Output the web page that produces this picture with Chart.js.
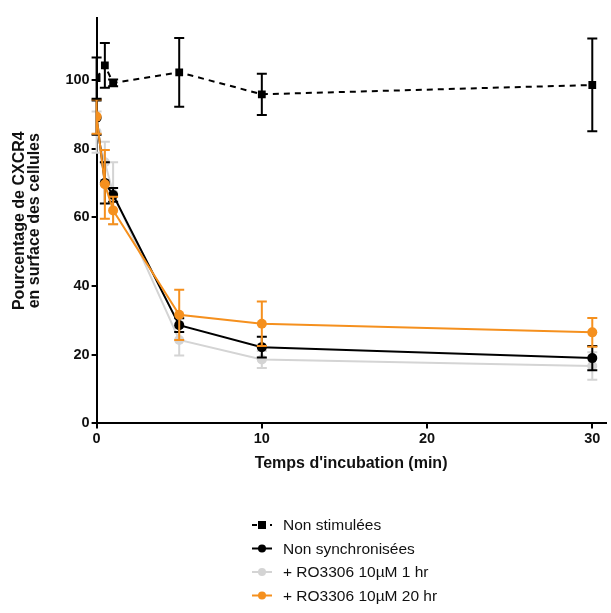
<!DOCTYPE html>
<html>
<head>
<meta charset="utf-8">
<script src="https://cdn.jsdelivr.net/npm/chart.js@4"></script>
<style>
  html, body { margin: 0; padding: 0; background: #fff; }
  #wrap { width: 611px; height: 613px; position: relative; }
</style>
</head>
<body>
<div id="wrap"><canvas id="Graph"></canvas></div>
<script>
// time points (min)
const times = [0, 0.5, 1, 5, 10, 30];

const seriesNames = ['Non stimulées', 'Non synchronisées', '+ RO3306 10µM 1 hr', '+ RO3306 10µM 20 hr'];

// means
const nonStim = [100.5, 104.2, 99.1, 102.2, 95.8, 98.5];
const nonSync = [89, 70, 66.5, 28.6, 22.2, 19];
const ro1h = [84.8, 76, 67, 24.3, 18.6, 16.7];
const ro20h = [89.3, 69.6, 62, 31.6, 29, 26.5];

// error (SD)
const nonStimErr = [6, 6.5, 1, 10, 6, 13.5];
const nonSyncErr = [5, 6, 2, 2, 3, 3.5];
const ro1hErr = [6, 6, 9, 4.5, 2.5, 4];
const ro20hErr = [5, 10, 4, 7.3, 6.5, 4.2];

const xTicks = [0, 10, 20, 30];
const yTicks = [0, 20, 40, 60, 80, 100];

const colBlack = '#000000';
const colGrey = '#d4d4d4';
const colOrange = '#f5901e';

function pts(vals) {
    return times.map((t, i) => ({ x: t, y: vals[i] }));
}

const errors = [nonStimErr, nonSyncErr, ro1hErr, ro20hErr];

// draws the vertical error bars under each dataset's markers
const errorBars = {
    id: 'errorBars',
    beforeDatasetDraw(chart, args) {
        const i = args.index;
        const ds = chart.data.datasets[i];
        const err = errors[i];
        const xs = chart.scales.x, ys = chart.scales.y;
        const ctx = chart.ctx;
        ctx.save();
        ctx.strokeStyle = ds.borderColor;
        ctx.lineWidth = 2;
        ctx.setLineDash([]);
        ds.data.forEach((p, j) => {
            const px = xs.getPixelForValue(p.x);
            const top = ys.getPixelForValue(p.y + err[j]);
            const bot = ys.getPixelForValue(p.y - err[j]);
            ctx.beginPath();
            ctx.moveTo(px, top); ctx.lineTo(px, bot);
            ctx.moveTo(px - 5, top); ctx.lineTo(px + 5, top);
            ctx.moveTo(px - 5, bot); ctx.lineTo(px + 5, bot);
            ctx.stroke();
        });
        ctx.restore();
    }
};

// legend drawn as a vertical list below the plot
const stackLegend = {
    id: 'stackLegend',
    afterDraw(chart) {
        const ctx = chart.ctx;
        const x0 = 252, lineW = 20, textX = 283;
        let y = 525;
        ctx.save();
        chart.data.datasets.forEach(ds => {
            ctx.strokeStyle = ds.borderColor;
            ctx.fillStyle = ds.borderColor;
            ctx.lineWidth = 2;
            ctx.setLineDash(ds.borderDash.length ? [5, 4] : []);
            ctx.beginPath();
            ctx.moveTo(x0, y); ctx.lineTo(x0 + lineW, y);
            ctx.stroke();
            ctx.setLineDash([]);
            const cx = x0 + lineW / 2;
            if (ds.pointStyle === 'rect') {
                ctx.fillRect(cx - 4, y - 4, 8, 8);
            } else {
                ctx.beginPath();
                ctx.arc(cx, y, 4, 0, Math.PI * 2);
                ctx.fill();
            }
            ctx.fillStyle = '#111';
            ctx.font = '15.5px "Liberation Sans", Arial, sans-serif';
            ctx.textBaseline = 'middle';
            ctx.fillText(ds.label, textX, y + 1);
            y += 23.5;
        });
        ctx.restore();
    }
};

function makeSet(label, vals, color, style, dash, order) {
    return {
        label: label,
        data: pts(vals),
        borderColor: color,
        backgroundColor: color,
        pointBackgroundColor: color,
        pointBorderColor: color,
        pointBorderWidth: 0,
        pointStyle: style,
        pointRadius: style === 'rect' ? 5.5 : 5,
        borderWidth: 2,
        borderDash: dash,
        tension: 0,
        order: order
    };
}

const tickFont = { family: '"Liberation Sans", Arial, sans-serif', size: 14.5, weight: 'bold' };
const titleFont = { family: '"Liberation Sans", Arial, sans-serif', size: 16, weight: 'bold' };

new Chart(document.getElementById('Graph').getContext('2d'), {
    type: 'line',
    data: {
        datasets: [
            makeSet(seriesNames[0], nonStim, colBlack, 'rect', [6, 5], 0),
            makeSet(seriesNames[1], nonSync, colBlack, 'circle', [], 2),
            makeSet(seriesNames[2], ro1h, colGrey, 'circle', [], 3),
            makeSet(seriesNames[3], ro20h, colOrange, 'circle', [], 1)
        ]
    },
    options: {
        responsive: true,
        maintainAspectRatio: false,
        animation: false,
        layout: { padding: { left: 10, right: 3, top: 18, bottom: 136 } },
        plugins: { legend: { display: false }, tooltip: { enabled: false } },
        scales: {
            x: {
                type: 'linear',
                min: 0,
                max: 30.8,
                afterBuildTicks: (s) => { s.ticks = xTicks.map(v => ({ value: v })); },
                grid: { display: true, drawOnChartArea: false, drawTicks: true, tickLength: 5, color: '#000', lineWidth: 2 },
                border: { color: '#000', width: 2 },
                ticks: { color: '#111', font: tickFont, padding: 2 },
                title: { display: true, text: "Temps d'incubation (min)", color: '#111', font: titleFont, padding: { top: 4 } }
            },
            y: {
                min: 0,
                max: 118,
                afterBuildTicks: (s) => { s.ticks = yTicks.map(v => ({ value: v })); },
                grid: { display: true, drawOnChartArea: false, drawTicks: true, tickLength: 5, color: '#000', lineWidth: 2 },
                border: { color: '#000', width: 2 },
                ticks: { color: '#111', font: tickFont, padding: 2 },
                title: { display: true, text: ['Pourcentage de CXCR4', 'en surface des cellules'], color: '#111', font: { ...titleFont, lineHeight: 0.95 }, padding: { top: 2, bottom: 21 } }
            }
        }
    },
    plugins: [errorBars, stackLegend]
});
</script>
</body>
</html>
